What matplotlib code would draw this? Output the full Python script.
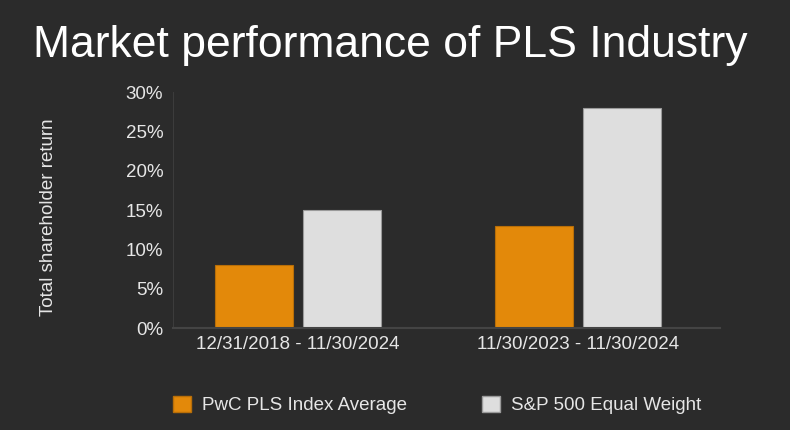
import numpy as np
import matplotlib.pyplot as plt
from matplotlib.patches import Patch

plt.rcParams['font.family'] = ['Liberation Sans', 'DejaVu Sans']

# data
periods = ['12/31/2018 - 11/30/2024', '11/30/2023 - 11/30/2024']
pwc_pls = [8.0, 13.0]
sp500_eq = [15.0, 28.0]
series_names = ['PwC PLS Index Average', 'S&P 500 Equal Weight']
yticks = [0, 5, 10, 15, 20, 25, 30]

bg = '#2b2b2b'
orange = '#e3890a'
grey = '#dedede'
text_col = '#e6e6e6'

fig = plt.figure(figsize=(7.9, 4.3), dpi=100, facecolor=bg)
ax = fig.add_axes([0.219, 0.237, 0.692, 0.549], facecolor=bg)

x = np.arange(len(periods))
w = 0.279
off = 0.157
ax.bar(x - off, pwc_pls, w, color=orange, edgecolor='#b86e08', linewidth=0.8)
ax.bar(x + off, sp500_eq, w, color=grey, edgecolor='#9a9a9a', linewidth=0.8)

ax.set_xlim(-0.446, 1.507)
ax.set_ylim(0, 30)
ax.set_yticks(yticks)
ax.set_yticklabels([f'{t}%' for t in yticks])
ax.set_xticks(x)
ax.set_xticklabels(periods)
ax.tick_params(length=0, colors=text_col, labelsize=13.5)
ax.tick_params(axis='y', pad=7)
ax.tick_params(axis='x', pad=6)

for s in ['top', 'right']:
    ax.spines[s].set_visible(False)
ax.spines['left'].set_color('#3c3c3c')
ax.spines['bottom'].set_color('#444444')
ax.spines['bottom'].set_linewidth(1.5)

fig.text(0.062, 0.495, 'Total shareholder return', rotation=90, color=text_col,
         fontsize=13.5, ha='center', va='center')

fig.text(0.494, 0.895, 'Market performance of PLS Industry', color='white',
         fontsize=32, ha='center', va='center')

handles = [Patch(facecolor=orange, edgecolor='#b86e08'),
           Patch(facecolor=grey, edgecolor='#9a9a9a')]
leg = fig.legend(handles, series_names, loc='center left', ncol=2,
                 bbox_to_anchor=(0.198, 0.058), frameon=False,
                 fontsize=13.5, handlelength=0.95, handleheight=0.95,
                 columnspacing=4.0, handletextpad=0.6)
for t in leg.get_texts():
    t.set_color(text_col)

fig.savefig('out.png', dpi=100, facecolor=bg)
